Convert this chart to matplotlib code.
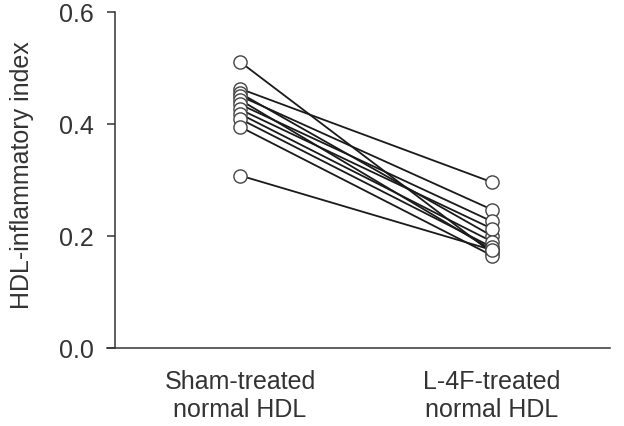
import numpy as np
import matplotlib.pyplot as plt

plt.rcParams['font.family'] = ['Liberation Sans', 'DejaVu Sans']

groups = ['Sham-treated\nnormal HDL', 'L-4F-treated\nnormal HDL']
sham = [0.511, 0.463, 0.455, 0.450, 0.443, 0.435, 0.426, 0.418, 0.409, 0.395, 0.308]
l4f = [0.170, 0.296, 0.200, 0.247, 0.175, 0.226, 0.213, 0.190, 0.180, 0.165, 0.175]
yticks = [0.0, 0.2, 0.4, 0.6]


def main():
    fig = plt.figure(figsize=(6.24, 4.26), dpi=100)
    ax = fig.add_axes([107 / 624, 1 - 348 / 426, (610 - 107) / 624, (348 - 12) / 426])

    xs = [0, 1]
    for a, b in zip(sham, l4f):
        ax.plot(xs, [a, b], '-', color='#1a1a1a', lw=1.3, zorder=2)
    for a, b in zip(sham, l4f):
        ax.plot(xs, [a, b], 'o', ms=9.5, mfc='white', mec='#444444', mew=1.0,
                ls='none', zorder=3)

    ax.set_xlim(-0.528, 1.468)
    ax.set_ylim(0, 0.6)
    ax.spines['top'].set_visible(False)
    ax.spines['right'].set_visible(False)
    ax.spines['left'].set_position(('data', -0.496))
    for s in ['left', 'bottom']:
        ax.spines[s].set_linewidth(1.1)
        ax.spines[s].set_color('#333333')

    ax.set_yticks(yticks)
    ax.set_yticklabels(['%.1f' % v for v in yticks])
    ax.tick_params(axis='y', length=6, width=1.1, color='#333333', pad=9,
                   labelsize=18, labelcolor='#333333')
    ax.set_xticks(xs)
    ax.set_xticklabels(groups, linespacing=1.2)
    ax.tick_params(axis='x', length=0, pad=16, labelsize=18, labelcolor='#333333')

    ax.set_ylabel('HDL-inflammatory index', fontsize=18, color='#333333')
    ax.yaxis.set_label_coords(-0.145, 0.515)

    fig.savefig('out.png', dpi=100)


if __name__ == "__main__":
    main()
